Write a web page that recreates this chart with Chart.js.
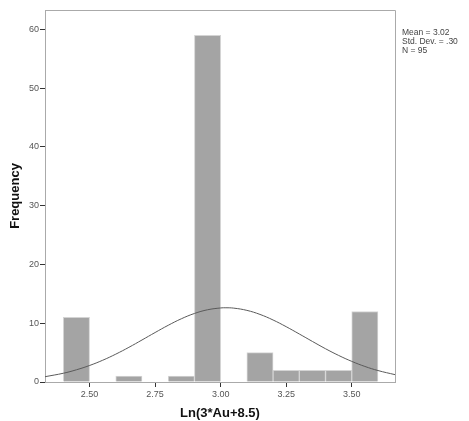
<!DOCTYPE html>
<html>
<head>
<meta charset="utf-8">
<script src="https://cdn.jsdelivr.net/npm/chart.js@4/dist/chart.umd.min.js"></script>
<style>
  html, body { margin: 0; padding: 0; background: #fff; }
  #wrap { width: 469px; height: 421px; }
</style>
</head>
<body>
<div id="wrap"><canvas id="hist"></canvas></div>
<script>
// histogram bins (centre of each 0.1 wide bin) and counts
const binCenters = [2.45, 2.55, 2.65, 2.75, 2.85, 2.95, 3.05, 3.15, 3.25, 3.35, 3.45, 3.55];
const binCounts = [11, 0, 1, 0, 1, 59, 0, 5, 2, 2, 2, 12];

// normal curve
const curveX = [2.33, 2.40, 2.45, 2.50, 2.55, 2.60, 2.65, 2.70, 2.75, 2.80, 2.85, 2.90, 2.95, 3.00, 3.02,
                3.05, 3.10, 3.15, 3.20, 3.25, 3.30, 3.35, 3.40, 3.45, 3.50, 3.55, 3.60, 3.665];
const curveY = [0.90, 1.49, 2.08, 2.81, 3.70, 4.74, 5.90, 7.15, 8.42, 9.65, 10.76, 11.66, 12.29, 12.60, 12.63,
                12.57, 12.19, 11.50, 10.55, 9.41, 8.17, 6.90, 5.66, 4.52, 3.51, 2.65, 1.95, 1.25];

const xTicks = [2.50, 2.75, 3.00, 3.25, 3.50];
const yTicks = [0, 10, 20, 30, 40, 50, 60];
const statsText = ['Mean = 3.02', 'Std. Dev. = .30', 'N = 95'];

// frame round the plot plus the stats text on the right
const framePlugin = {
    id: 'frame',
    afterDraw(chart) {
        const { ctx, chartArea: a } = chart;
        ctx.save();
        ctx.strokeStyle = '#aaaaaa';
        ctx.lineWidth = 1;
        ctx.beginPath();
        ctx.moveTo(a.left, a.top + 0.5);
        ctx.lineTo(a.right + 0.5, a.top + 0.5);
        ctx.lineTo(a.right + 0.5, a.bottom);
        ctx.stroke();
        ctx.fillStyle = '#444';
        ctx.font = '8.5px "Liberation Sans", Arial, sans-serif';
        ctx.textBaseline = 'middle';
        statsText.forEach((t, i) => ctx.fillText(t, a.right + 7, 33 + i * 9));
        ctx.restore();
    }
};

const tickFont = { family: '"Liberation Sans", Arial, sans-serif', size: 9 };
const titleFont = { family: '"Liberation Sans", Arial, sans-serif', size: 13, weight: 'bold' };

new Chart(document.getElementById('hist'), {
    type: 'bar',
    data: {
        datasets: [
            {
                type: 'line',
                data: curveX.map((x, i) => ({ x: x, y: curveY[i] })),
                borderColor: '#5a5a5a',
                borderWidth: 1,
                pointRadius: 0,
                tension: 0.4,
                fill: false,
                order: 0
            },
            {
                type: 'bar',
                data: binCenters.map((x, i) => ({ x: x, y: binCounts[i] })),
                backgroundColor: '#a4a4a4',
                borderColor: '#d4d4d4',
                borderWidth: 1,
                barPercentage: 1,
                categoryPercentage: 1,
                order: 1
            }
        ]
    },
    options: {
        responsive: true,
        maintainAspectRatio: false,
        animation: false,
        layout: { padding: { top: 10, right: 74, left: 0, bottom: 0 } },
        plugins: { legend: { display: false }, tooltip: { enabled: false } },
        scales: {
            x: {
                type: 'linear',
                min: 2.33,
                max: 3.665,
                offset: false,
                afterFit: s => { s.height = 39; },
                afterBuildTicks: s => { s.ticks = xTicks.map(v => ({ value: v })); },
                grid: { offset: false, drawOnChartArea: false, drawTicks: true, tickLength: 5, color: '#333' },
                border: { color: '#aaaaaa' },
                ticks: {
                    font: tickFont, color: '#555', padding: 2, maxRotation: 0,
                    callback: v => v.toFixed(2)
                },
                title: { display: true, text: 'Ln(3*Au+8.5)', font: titleFont, color: '#111', padding: { top: 0, bottom: 0 } }
            },
            y: {
                min: 0,
                max: 63.3,
                afterFit: s => { s.width = 45; },
                afterBuildTicks: s => { s.ticks = yTicks.map(v => ({ value: v })); },
                grid: { drawOnChartArea: false, drawTicks: true, tickLength: 5, color: '#333' },
                border: { color: '#aaaaaa' },
                ticks: { font: tickFont, color: '#555', padding: 1 },
                title: { display: true, text: 'Frequency', font: titleFont, color: '#111', padding: { top: 8, bottom: 0 } }
            }
        }
    },
    plugins: [framePlugin]
});
</script>
</body>
</html>
